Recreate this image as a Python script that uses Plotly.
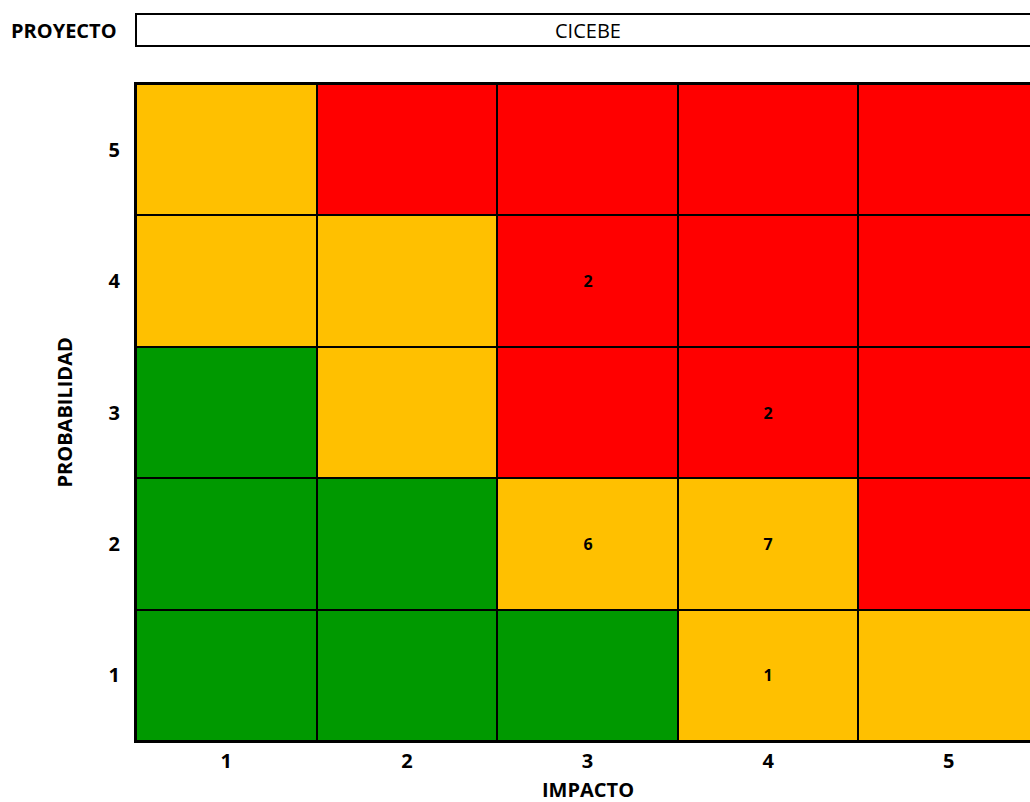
import plotly.graph_objects as go

impact = [1, 2, 3, 4, 5]
probability = [1, 2, 3, 4, 5]
# risk level per cell: rows = probability 1..5, cols = impact 1..5 (0 green, 1 amber, 2 red)
levels = [
    [0, 0, 0, 1, 1],
    [0, 0, 1, 1, 2],
    [0, 1, 2, 2, 2],
    [1, 1, 2, 2, 2],
    [1, 2, 2, 2, 2],
]
# number of risks in each cell (None = empty)
counts = [
    [None, None, None, 1, None],
    [None, None, 6, 7, None],
    [None, None, None, 2, None],
    [None, None, 2, None, None],
    [None, None, None, None, None],
]
level_colors = ["#009900", "#FFC000", "#FF0000"]
project_label = "PROYECTO"
project_name = "CICEBE"
x_title = "IMPACTO"
y_title = "PROBABILIDAD"

FONT = "Open Sans"

text = [["" if c is None else str(c) for c in row] for row in counts]

colorscale = [
    [0.0, level_colors[0]], [0.3333, level_colors[0]],
    [0.3334, level_colors[1]], [0.6666, level_colors[1]],
    [0.6667, level_colors[2]], [1.0, level_colors[2]],
]

fig = go.Figure(go.Heatmap(
    x=impact, y=probability, z=levels,
    zmin=0, zmax=2, colorscale=colorscale, showscale=False,
    text=text, texttemplate="%{text}",
    textfont=dict(family=FONT, size=16, color="black", weight="bold"),
    xgap=2, ygap=2, hoverinfo="skip",
))

fig.update_layout(
    width=1030, height=802,
    margin=dict(l=136, r=0, t=84, b=61),
    paper_bgcolor="white", plot_bgcolor="black",
    font=dict(family=FONT, color="black"),
    xaxis=dict(range=[0.5, 5.45], tickvals=impact, showgrid=False, zeroline=False,
               showline=True, linecolor="black", linewidth=2, mirror=True,
               ticks="", tickfont=dict(size=20, weight="bold"), ticklabelstandoff=1),
    yaxis=dict(range=[0.5, 5.5], tickvals=probability, showgrid=False, zeroline=False,
               showline=True, linecolor="black", linewidth=2,
               ticks="", tickfont=dict(size=20, weight="bold"), ticklabelstandoff=10),
)

fig.add_annotation(x=3, y=-0.0745, xref="x", yref="paper", text=x_title, showarrow=False,
                   font=dict(size=20, weight="bold"), yanchor="middle")
fig.add_annotation(x=-0.0805, y=0.5, xref="paper", yref="paper", text=y_title, showarrow=False,
                   font=dict(size=20, weight="bold"), textangle=-90, xanchor="center",
                   yanchor="middle")

fig.add_shape(type="rect", xref="paper", yref="paper", x0=0, x1=1.05, y0=1.0578, y1=1.1065,
              line=dict(color="black", width=2), fillcolor="white")
fig.add_annotation(x=-0.0805, y=1.082, xref="paper", yref="paper", text=project_label,
                   showarrow=False, font=dict(size=20, weight="bold"), xanchor="center",
                   yanchor="middle")
fig.add_annotation(x=3, y=1.082, xref="x", yref="paper", text=project_name,
                   showarrow=False, font=dict(size=20), yanchor="middle")

fig.write_html("out.html", config={"displayModeBar": False},
               post_script="document.body.style.margin='0';document.body.style.overflow='hidden';")
